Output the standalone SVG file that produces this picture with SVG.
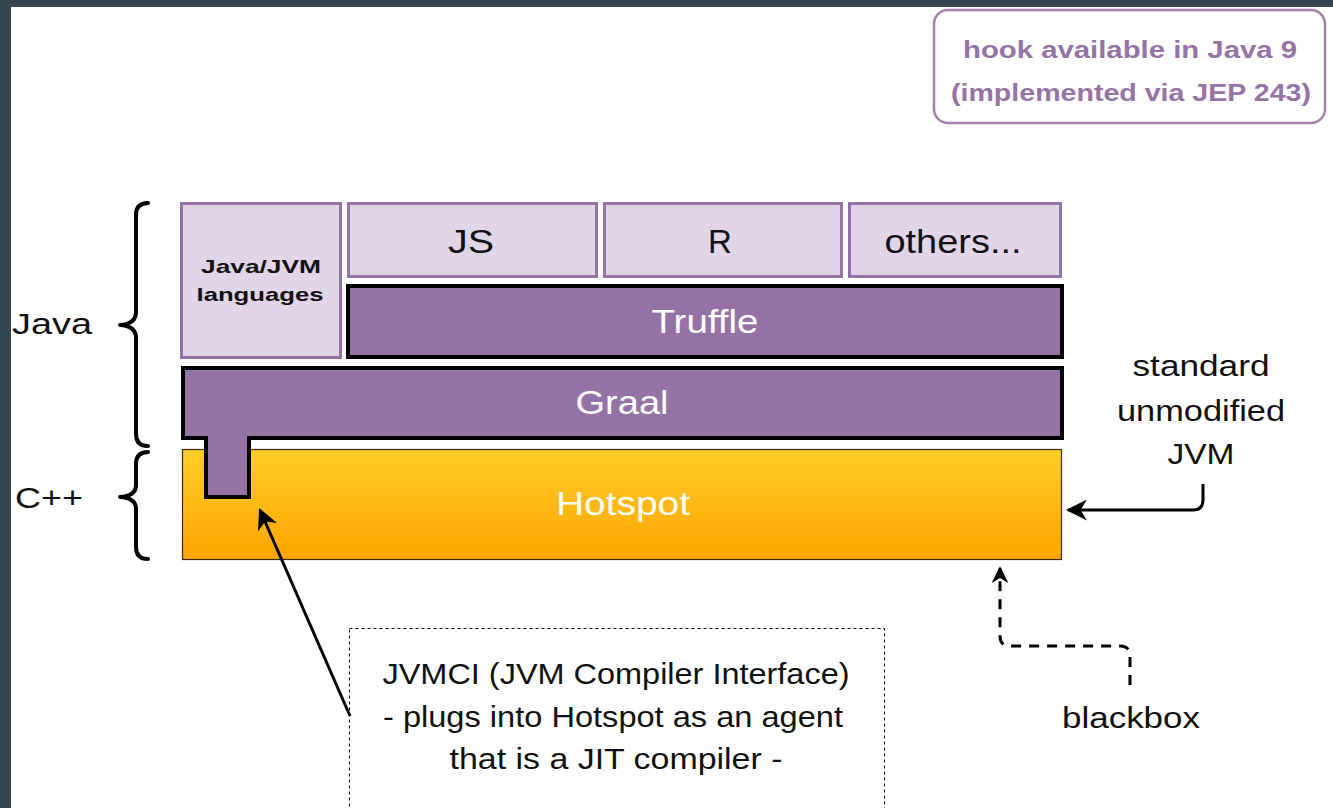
<svg xmlns="http://www.w3.org/2000/svg" width="1333" height="808" viewBox="0 0 1333 808">
<defs>
<linearGradient id="hot" x1="0" y1="0" x2="0" y2="1">
<stop offset="0" stop-color="#ffcd28"/>
<stop offset="1" stop-color="#ffa500"/>
</linearGradient>
<marker id="ah" viewBox="0 0 10 10" refX="9" refY="5" markerWidth="7" markerHeight="7" orient="auto" markerUnits="strokeWidth">
<path d="M0,0 L10,5 L0,10 L3,5 Z" fill="#000"/>
</marker>
<marker id="ah2" viewBox="0 0 10 10" refX="9" refY="5" markerWidth="5.5" markerHeight="5.5" orient="auto" markerUnits="strokeWidth">
<path d="M0,0 L10,5 L0,10 L3,5 Z" fill="#000"/>
</marker>
</defs>
<style>
text{font-family:"Liberation Sans",Arial,sans-serif;}
.lang{fill:#e1d5e7;stroke:#9673a6;stroke-width:3;}
.purp{fill:#9673a6;stroke:#000;stroke-width:4;}
.wt{fill:#fff;font-size:33px;text-anchor:middle;}
.bt{fill:#111;font-size:33px;text-anchor:middle;}
.lbl{fill:#111;font-size:30px;}
.mid{text-anchor:middle;}
.brace{fill:none;stroke:#000;stroke-width:4;stroke-linecap:round;stroke-linejoin:round;}
.conn{fill:none;stroke:#000;stroke-width:3;}
</style>
<rect x="0" y="0" width="1333" height="808" fill="#364650"/>
<rect x="11" y="7" width="1322" height="801" fill="#fff"/>

<g id="hook">
<rect x="934" y="10" width="391" height="113" rx="14" fill="#fff" stroke="#a680a8" stroke-width="2.5"/>
<text x="1130" y="58" font-size="24" font-weight="bold" fill="#9673a6" text-anchor="middle" textLength="334" lengthAdjust="spacingAndGlyphs">hook available in Java 9</text>
<text x="1131" y="101" font-size="24" font-weight="bold" fill="#9673a6" text-anchor="middle" textLength="360" lengthAdjust="spacingAndGlyphs">(implemented via JEP 243)</text>
</g>

<g id="java-label"><text class="lbl" x="12" y="334" textLength="80" lengthAdjust="spacingAndGlyphs">Java</text></g>
<g id="cpp-label"><text class="lbl" x="15" y="508" textLength="68" lengthAdjust="spacingAndGlyphs">C++</text></g>
<g id="java-brace"><path class="brace" d="M148,203 Q136,203 136,215 L136,312 Q136,324 120,325 Q136,326 136,338 L136,434 Q136,446 148,446"/></g>
<g id="cpp-brace"><path class="brace" d="M148,452 Q136,452 136,464 L136,485 Q136,496 120,497 Q136,498 136,509 L136,547 Q136,559 148,559"/></g>

<g id="java-jvm">
<rect class="lang" x="181.5" y="203.5" width="159" height="154"/>
<text x="261" y="273" font-size="19" font-weight="bold" fill="#111" text-anchor="middle" textLength="120" lengthAdjust="spacingAndGlyphs">Java/JVM</text>
<text x="260" y="301" font-size="19" font-weight="bold" fill="#111" text-anchor="middle" textLength="127" lengthAdjust="spacingAndGlyphs">languages</text>
</g>
<g id="js">
<rect class="lang" x="348.5" y="203.5" width="248" height="73"/>
<text class="bt" x="471" y="253" textLength="46" lengthAdjust="spacingAndGlyphs">JS</text>
</g>
<g id="r">
<rect class="lang" x="604.5" y="203.5" width="237" height="73"/>
<text class="bt" x="720" y="253">R</text>
</g>
<g id="others">
<rect class="lang" x="849.5" y="203.5" width="211" height="73"/>
<text class="bt" x="953" y="253" textLength="137" lengthAdjust="spacingAndGlyphs">others...</text>
</g>
<g id="truffle">
<rect class="purp" x="348" y="286" width="714" height="71"/>
<text class="wt" x="705" y="333" textLength="107" lengthAdjust="spacingAndGlyphs">Truffle</text>
</g>
<g id="hotspot">
<rect x="182.5" y="449.5" width="879" height="110" fill="url(#hot)" stroke="#3a2a10" stroke-width="1.2"/>
<text class="wt" x="623" y="515" textLength="134" lengthAdjust="spacingAndGlyphs">Hotspot</text>
</g>
<g id="graal">
<path class="purp" d="M183,368 L1062,368 L1062,438 L249,438 L249,497 L206,497 L206,438 L183,438 Z"/>
<text class="wt" x="622" y="414" textLength="93" lengthAdjust="spacingAndGlyphs">Graal</text>
</g>

<g id="jvm-label">
<text class="lbl mid" x="1201" y="376" textLength="137" lengthAdjust="spacingAndGlyphs">standard</text>
<text class="lbl mid" x="1201" y="421" textLength="168" lengthAdjust="spacingAndGlyphs">unmodified</text>
<text class="lbl mid" x="1201" y="464" textLength="67" lengthAdjust="spacingAndGlyphs">JVM</text>
</g>
<g id="blackbox-label"><text class="lbl mid" x="1131" y="728" textLength="138" lengthAdjust="spacingAndGlyphs">blackbox</text></g>

<g id="jvmci">
<rect x="349.5" y="628.5" width="535" height="190" fill="#fff" stroke="#000" stroke-width="1" stroke-dasharray="3,3"/>
<text class="lbl mid" x="616" y="684" textLength="467" lengthAdjust="spacingAndGlyphs">JVMCI (JVM Compiler Interface)</text>
<text class="lbl mid" x="613" y="727" textLength="460" lengthAdjust="spacingAndGlyphs">- plugs into Hotspot as an agent</text>
<text class="lbl mid" x="616" y="769" textLength="333" lengthAdjust="spacingAndGlyphs">that is a JIT compiler -</text>
</g>

<g id="connectors">
<path class="conn" d="M350,716 L260,510" marker-end="url(#ah)"/>
<path class="conn" d="M1203,484 L1203,500 Q1203,510 1193,510 L1068,510" marker-end="url(#ah)"/>
<path class="conn" d="M1130,685 L1130,656 Q1130,646 1120,646 L1010,646 Q1000,646 1000,636 L1000,568" stroke-dasharray="10,8" marker-end="url(#ah2)"/>
</g>
</svg>
